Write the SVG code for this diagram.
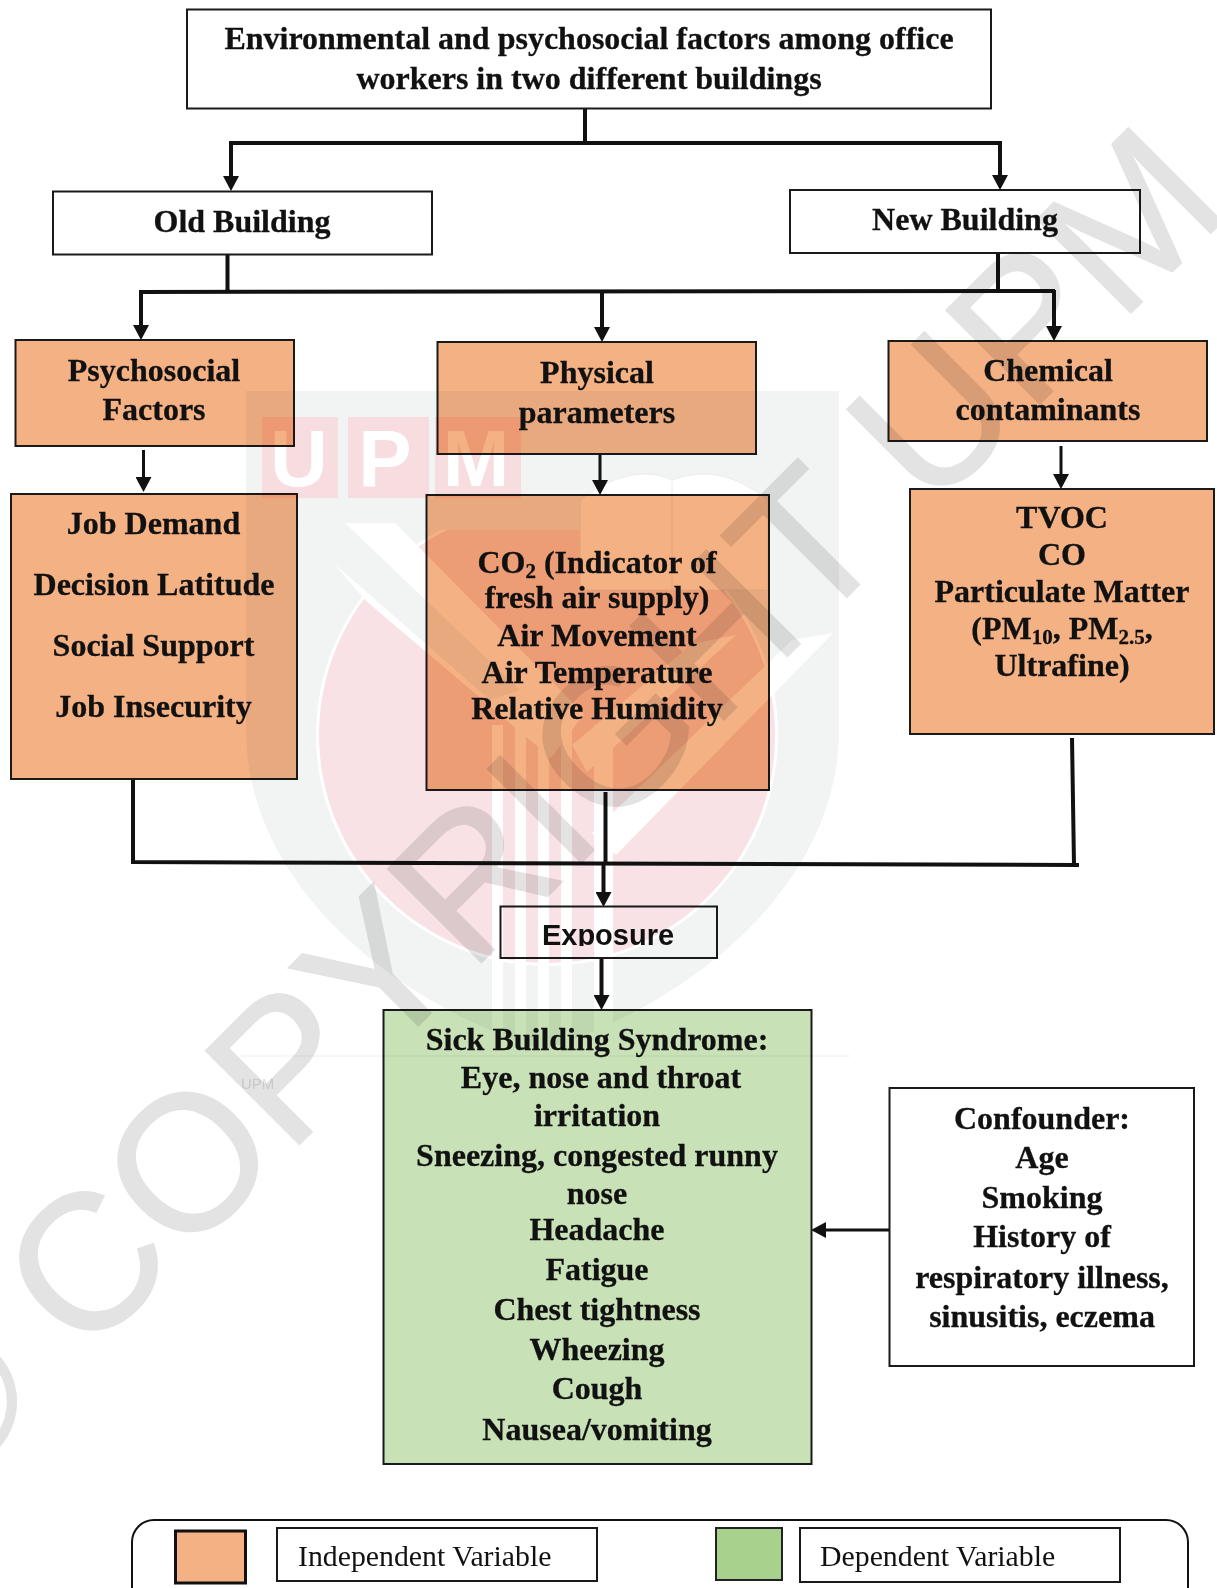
<svg xmlns="http://www.w3.org/2000/svg" width="1217" height="1588" viewBox="0 0 1217 1588">
<style>
.bx{stroke:#1a1a1a;stroke-width:2}
.w{fill:#fff}.o{fill:#f4b183}.g{fill:#c8e1b7}
text{font-family:"Liberation Serif","Times New Roman",serif;fill:#111}
.t{font-weight:bold;font-size:32px;text-anchor:middle;stroke:#111;stroke-width:.3}
.r{font-size:29.800px}
.c{fill:none;stroke:#111;stroke-width:4}
.th{fill:none;stroke:#111;stroke-width:3}
.wm{font-family:"Liberation Sans",Arial,sans-serif;font-size:193px;fill:#e3e3e3;stroke:#e3e3e3;stroke-width:1.500}
.lg{font-family:"Liberation Sans",Arial,sans-serif;font-weight:bold;font-size:80px;fill:#fff;text-anchor:middle}
.mul{mix-blend-mode:multiply}
</style>
<defs>
<marker id="a" markerUnits="userSpaceOnUse" viewBox="0 0 15 16" markerWidth="15" markerHeight="16" refX="9" refY="8" orient="auto"><path d="M0 0L15 8L0 16Z" fill="#111"/></marker>
<clipPath id="ex"><rect x="500" y="900" width="220" height="46"/></clipPath>
</defs>
<rect width="1217" height="1588" fill="#fff"/>
<g id="connectors">
<path class="c" d="M585 108V143M229 143H1002"/>
<path class="c" d="M231 141V185" marker-end="url(#a)"/>
<path class="c" d="M1000 141V184" marker-end="url(#a)"/>
<path class="c" d="M227.500 254V292M139 292L1055 291M998 253V291"/>
<path class="c" d="M141 290V334" marker-end="url(#a)"/>
<path class="c" d="M602 292V336" marker-end="url(#a)"/>
<path class="c" d="M1054 290V335" marker-end="url(#a)"/>
<path class="th" d="M143.500 450V486" marker-end="url(#a)"/>
<path class="th" d="M600 454V489" marker-end="url(#a)"/>
<path class="th" d="M1061 446V483" marker-end="url(#a)"/>
<path class="c" d="M133 780V862M131 862L1079 865M1072 738L1074 865"/>
<path class="c" d="M605.500 792V864"/>
<path class="c" d="M603.500 862V901" marker-end="url(#a)"/>
<path class="c" d="M601.500 958V1004" marker-end="url(#a)"/>
<path class="th" d="M891 1230H817" marker-end="url(#a)"/>
</g>
<g id="title"><rect class="bx w" x="187" y="9.500" width="804" height="99"/>
<text class="t" x="589" y="49">Environmental and psychosocial factors among office</text>
<text class="t" x="589" y="89">workers in two different buildings</text></g>
<g id="old-building"><rect class="bx w" x="53" y="191.500" width="379" height="63"/>
<text class="t" x="242" y="232">Old Building</text></g>
<g id="new-building"><rect class="bx w" x="790" y="190" width="350" height="63"/>
<text class="t" x="965" y="230">New Building</text></g>
<g id="psychosocial"><rect class="bx o" x="15.500" y="340" width="278.500" height="106"/>
<text class="t" x="154" y="381">Psychosocial</text><text class="t" x="154" y="420">Factors</text></g>
<g id="physical"><rect class="bx o" x="437.500" y="342" width="318.500" height="112"/>
<text class="t" x="597" y="383">Physical</text><text class="t" x="597" y="423">parameters</text></g>
<g id="chemical"><rect class="bx o" x="888.500" y="341" width="318.500" height="100"/>
<text class="t" x="1048" y="381">Chemical</text><text class="t" x="1048" y="420">contaminants</text></g>
<g id="job-factors"><rect class="bx o" x="11" y="494" width="286" height="285"/>
<text class="t" x="153.500" y="534">Job Demand</text><text class="t" x="154" y="595">Decision Latitude</text><text class="t" x="153.500" y="656">Social Support</text><text class="t" x="153.500" y="717">Job Insecurity</text></g>
<g id="physical-list"><rect class="bx o" x="426.500" y="495" width="342.500" height="295"/>
<text class="t" x="597" y="573">CO<tspan font-size="21" dy="5">2</tspan><tspan dy="-5"> (Indicator of</tspan></text>
<text class="t" x="597" y="608">fresh air supply)</text><text class="t" x="597" y="646">Air Movement</text><text class="t" x="597" y="683">Air Temperature</text><text class="t" x="597" y="719">Relative Humidity</text></g>
<g id="chemical-list"><rect class="bx o" x="910" y="489" width="304" height="245"/>
<text class="t" x="1062" y="528">TVOC</text><text class="t" x="1062" y="565">CO</text><text class="t" x="1062" y="602">Particulate Matter</text>
<text class="t" x="1062" y="639">(PM<tspan font-size="21" dy="5">10</tspan><tspan dy="-5">, PM</tspan><tspan font-size="21" dy="5">2.5</tspan><tspan dy="-5">,</tspan></text>
<text class="t" x="1062" y="676">Ultrafine)</text></g>
<g id="exposure"><rect class="bx w" x="500.500" y="906.500" width="216.500" height="51.500"/>
<text clip-path="url(#ex)" x="608" y="945" text-anchor="middle" style="font-family:'Liberation Sans',Arial,sans-serif;font-weight:bold;font-size:29px">Exposure</text></g>
<g id="sbs"><rect class="bx g" x="383.500" y="1010" width="428" height="454"/>
<text class="t" x="597" y="1050">Sick Building Syndrome:</text><text class="t" x="601" y="1088">Eye, nose and throat</text><text class="t" x="597" y="1126">irritation</text><text class="t" x="597" y="1166">Sneezing, congested runny</text><text class="t" x="597" y="1204">nose</text><text class="t" x="597" y="1240">Headache</text><text class="t" x="597" y="1280">Fatigue</text><text class="t" x="597" y="1320">Chest tightness</text><text class="t" x="597" y="1360">Wheezing</text><text class="t" x="597" y="1399">Cough</text><text class="t" x="597" y="1440">Nausea/vomiting</text></g>
<g id="confounder"><rect class="bx w" x="889.500" y="1088" width="304.500" height="278"/>
<text class="t" x="1042" y="1129">Confounder:</text><text class="t" x="1042" y="1168">Age</text><text class="t" x="1042" y="1208">Smoking</text><text class="t" x="1042" y="1247">History of</text><text class="t" x="1042" y="1288">respiratory illness,</text><text class="t" x="1042" y="1327">sinusitis, eczema</text></g>
<g id="legend"><rect x="132" y="1520" width="1056" height="90" rx="22" fill="none" stroke="#111" stroke-width="2"/>
<rect x="175.500" y="1531" width="70" height="52" fill="#f4b183" stroke="#111" stroke-width="3"/>
<rect class="bx w" x="277" y="1528" width="320" height="53"/>
<text class="r" x="298" y="1566">Independent Variable</text>
<rect x="716" y="1528" width="66" height="52" fill="#a9d18e" stroke="#222" stroke-width="2"/>
<rect class="bx w" x="800" y="1528" width="320" height="54"/>
<text class="r" x="820" y="1566">Dependent Variable</text></g>
<g class="mul" id="logo">
<path fill="#f2f4f4" d="M246 391H839V730C839 880 700 1000 543 1050C386 1000 246 880 246 730Z"/>
<circle cx="547" cy="735" r="231" fill="#fff"/>
<circle cx="547" cy="735" r="228" fill="#f8e2e6"/>
<rect x="310" y="495" width="470" height="35" fill="#f2f4f4"/>
<path fill="#fff" d="M300 523H395L584 714L551 758L365 600ZM792 640L833 633L616 855L592 833ZM692 644L736 635L587 772L572 745Z"/>
<path fill="#f2f4f4" d="M300 523H345L520 690L490 700L330 560Z"/>
<path fill="#fff" d="M492 725h11v325h-11zM515 725h11v325h-11zM538 725h11v325h-11zM561 725h11v325h-11zM594 725h19v325h-19z"/>
<path fill="#fff" stroke="#ececec" d="M580 500C620 470 650 470 672 480C700 470 730 470 768 500V590H580Z"/>
<path fill="none" stroke="#ececec" d="M672 480V590"/>
<rect x="262" y="417" width="76" height="81" fill="#f8dde0"/><rect x="348" y="417" width="81" height="81" fill="#f8dde0"/><rect x="435" y="417" width="86" height="81" fill="#f8dde0"/>
<text class="lg" x="299" y="486">U</text><text class="lg" x="385" y="486">P</text><text class="lg" x="476" y="486">M</text>
<path d="M240 1056H850" stroke="#f0f0f0"/>
<text x="241" y="1089" style="font-family:'Liberation Sans',Arial,sans-serif;font-size:15px;fill:#e2e2e2">UPM</text>
</g>
<text class="wm mul" transform="translate(-55 1499) rotate(-45)">© COPYRIGHT UPM</text>
</svg>
